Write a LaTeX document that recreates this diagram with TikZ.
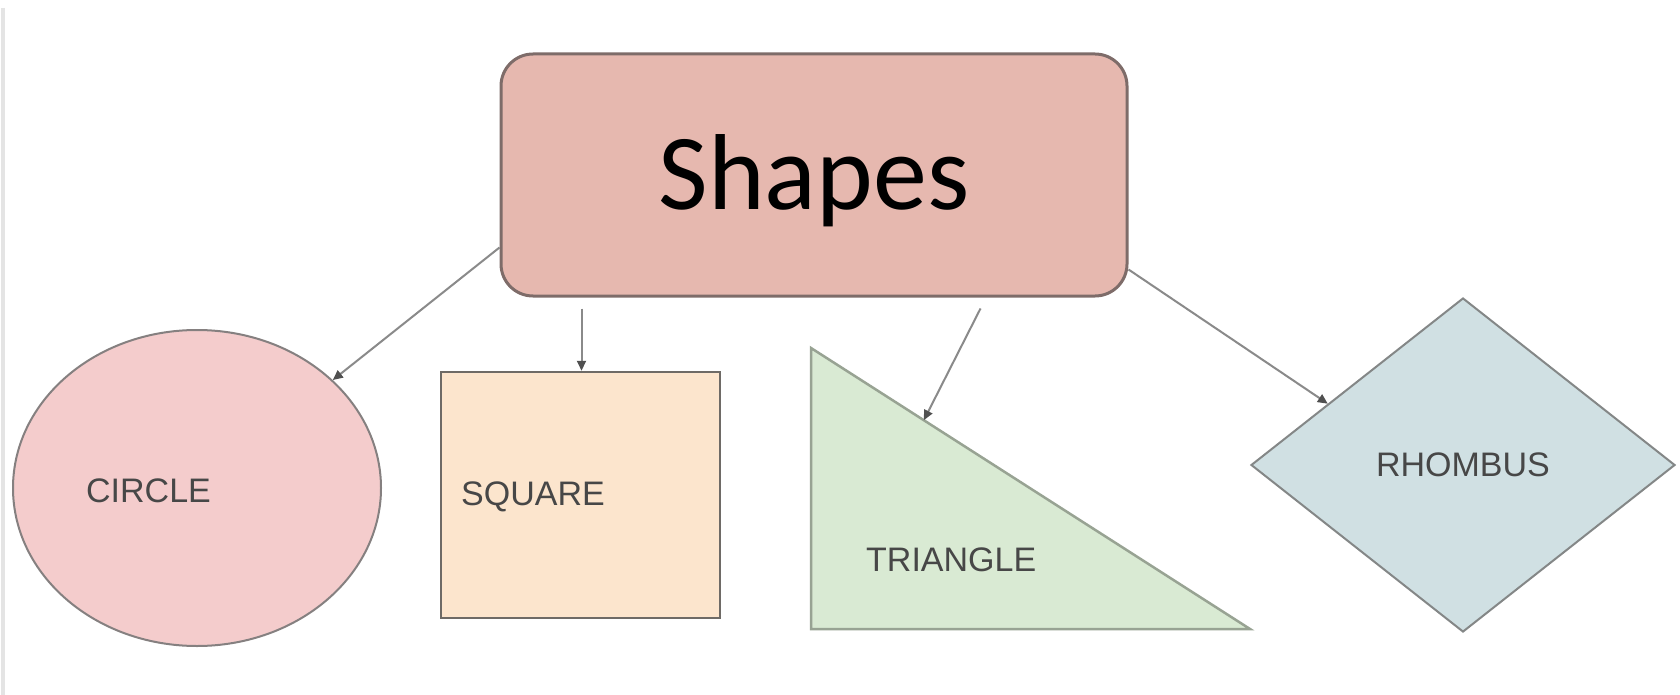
\documentclass[tikz,border=0pt]{standalone}
\usepackage{fontspec}
\setmainfont{Liberation Sans}
\newfontfamily\titlefont{Carlito}
\usetikzlibrary{shapes.geometric,arrows.meta,calc}
\definecolor{boxfill}{HTML}{E6B8AF}
\definecolor{boxline}{HTML}{7E6C69}
\definecolor{circfill}{HTML}{F4CCCC}
\definecolor{circline}{HTML}{858080}
\definecolor{sqfill}{HTML}{FCE5CD}
\definecolor{sqline}{HTML}{6E6A66}
\definecolor{trifill}{HTML}{D9EAD3}
\definecolor{triline}{HTML}{98A393}
\definecolor{rhfill}{HTML}{D0E0E3}
\definecolor{rhline}{HTML}{848787}
\definecolor{arrline}{HTML}{8A8A8A}
\definecolor{arrhead}{HTML}{505050}
\definecolor{lbltext}{HTML}{474747}
\definecolor{sideline}{HTML}{E4E4E4}
\tikzset{
  mainbox/.style={draw=boxline, fill=boxfill, line width=3pt, rounded corners=32pt,
    minimum width=626pt, minimum height=242pt, inner sep=0pt,
    font=\titlefont\fontsize{108}{120}\selectfont, text height=70pt, text depth=0pt},
  circbox/.style={ellipse, draw=circline, fill=circfill, line width=2pt,
    minimum width=368pt, minimum height=316pt, inner sep=0pt},
  sqbox/.style={rectangle, draw=sqline, fill=sqfill, line width=2.5pt,
    minimum width=279pt, minimum height=246pt, inner sep=0pt},
  tribox/.style={draw=triline, fill=trifill, line width=2.5pt},
  rhbox/.style={diamond, draw=rhline, fill=rhfill, line width=2pt,
    minimum width=424pt, minimum height=334pt, inner sep=0pt, text=lbltext,
    font=\fontsize{34}{40}\selectfont},
  lbl/.style={anchor=west, inner sep=0pt, text=lbltext, font=\fontsize{34}{40}\selectfont},
  arr/.style={draw=arrline, line width=2pt, -{Triangle[length=10pt,width=9pt,color=arrhead]}},
}
\begin{document}
\begin{tikzpicture}[x=1pt,y=-1pt]
\useasboundingbox (0,0) rectangle (1680,695);
\fill[white] (0,0) rectangle (1680,695);
\draw[sideline, line width=4pt] (3,8) -- (3,695);

\node[mainbox] (shapes) at (814,175) {Shapes};

\node[circbox] (circ) at (197,488) {};
\node[lbl] (circlbl) at (86,491) {CIRCLE};

\node[sqbox] (sq) at (580.5,495) {};
\node[lbl] (sqlbl) at (461,497) {SQUARE};

\coordinate (tA) at (811,348);
\coordinate (tB) at (811,629);
\coordinate (tC) at (1250,629);
\draw[tribox] (tA) -- (tB) -- (tC) -- cycle;
\node[lbl] (trilbl) at (866,560) {TRIANGLE};

\node[rhbox] (rh) at (1463,465) {RHOMBUS};

\coordinate (s1) at ($(shapes.south west)+(0,-50)$);
\coordinate (s2) at ($(shapes.south west)+(82,11)$);
\coordinate (s3) at ($(shapes.south west)+(481,11)$);
\coordinate (s4) at ($(shapes.south east)+(0,-28)$);
\coordinate (e3) at ($(tA)!0.257!(tC)$);
\coordinate (e4) at ($(rh.west)!0.365!(rh.north)$);

\draw[arr] (s1) -- (circ);
\draw[arr] (s2) -- (s2 |- sq.north);
\draw[arr] (s3) -- (e3);
\draw[arr] (s4) -- (e4);
\end{tikzpicture}
\end{document}
